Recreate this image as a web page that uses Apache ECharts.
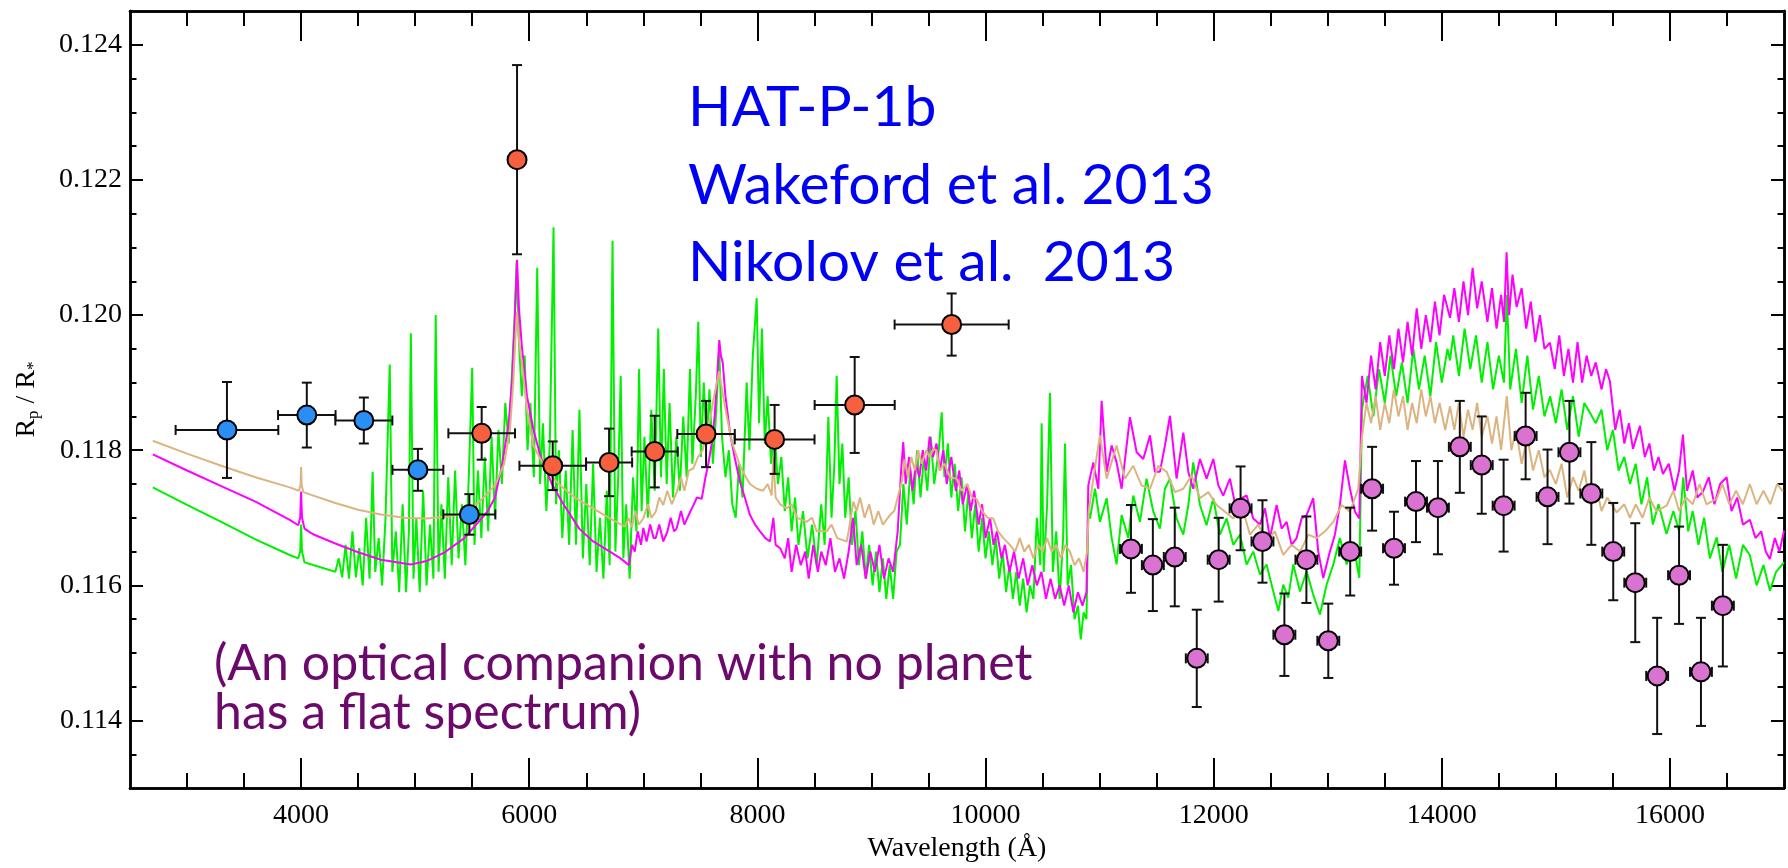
<!DOCTYPE html>
<html>
<head>
<meta charset="utf-8">
<title>HAT-P-1b transmission spectrum</title>
<script src="https://cdn.jsdelivr.net/npm/echarts@6/dist/echarts.min.js"></script>
<style>
  html, body { margin: 0; padding: 0; background: #ffffff; }
  #chart { width: 1788px; height: 868px; }
</style>
</head>
<body>
<div id="chart"></div>
<script>
// ---- STIS G430L (blue) ----
const blueWave      = [3350, 4050, 4550, 5024, 5475];
const blueRadius    = [0.11830, 0.11852, 0.11844, 0.11771, 0.11705];
const blueRadiusErr = [0.00071, 0.00048, 0.00034, 0.00031, 0.00030];
const blueWaveErr   = [450, 252, 250, 223, 228];

// ---- STIS G750L (red) ----
const redWave      = [5583, 5893, 6206, 6700, 7100, 7550, 8151, 8853, 9703];
const redRadius    = [0.11825, 0.12230, 0.11777, 0.11782, 0.11798, 0.11824, 0.11816, 0.11867, 0.11986];
const redRadiusErr = [0.00039, 0.00140, 0.00036, 0.00050, 0.00053, 0.00049, 0.00051, 0.00071, 0.00046];
const redWaveErr   = [292, 25, 292, 202, 202, 252, 350, 351, 500];

// ---- WFC3 G141 (pink) ----
const pinkWave = [11275, 11467, 11659, 11852, 12044, 12236, 12428, 12620, 12813, 13005,
                  13197, 13389, 13581, 13774, 13966, 14158, 14350, 14542, 14735, 14927,
                  15119, 15311, 15503, 15696, 15888, 16080, 16272, 16464];
const pinkRadius = [0.11654, 0.11630, 0.11642, 0.11492, 0.11638, 0.11714, 0.11665, 0.11527, 0.11638, 0.11518,
                    0.11650, 0.11743, 0.11655, 0.11724, 0.11715, 0.11805, 0.11778, 0.11718, 0.11821, 0.11731,
                    0.11797, 0.11736, 0.11650, 0.11604, 0.11466, 0.11615, 0.11472, 0.11570];
const pinkRadiusErr = [0.00065, 0.00068, 0.00073, 0.00072, 0.00062, 0.00062, 0.00061, 0.00061, 0.00064, 0.00055,
                       0.00065, 0.00062, 0.00054, 0.00060, 0.00069, 0.00068, 0.00072, 0.00068, 0.00064, 0.00070,
                       0.00076, 0.00076, 0.00072, 0.00088, 0.00086, 0.00072, 0.00080, 0.00090];
const pinkWaveErr = [96, 96, 96, 96, 96, 96, 96, 96, 96, 96,
                     96, 96, 96, 96, 96, 96, 96, 96, 96, 96,
                     96, 96, 96, 96, 96, 96, 96, 96];

// ---- model spectra: [wavelength (Å), Rp/R*] ----
const greenModel = [
  [2700,0.11745],[3000,0.11719],[3300,0.11694],[3600,0.11668],[3900,0.11645],[3975,0.1164],[3992,0.1165],[4000,0.1169],[4008,0.1165],[4030,0.11634],[4150,0.11628],[4300,0.1162],
  [4330,0.1164],[4360,0.11612],[4390,0.1166],[4420,0.1161],[4450,0.1168],[4480,0.11612],[4510,0.11655],[4540,0.116],[4570,0.117],[4600,0.1161],[4627,0.11768],[4650,0.1162],[4680,0.1167],[4710,0.116],[4740,0.117],[4777,0.11927],[4800,0.1162],[4830,0.1168],[4860,0.1159],[4890,0.1172],[4920,0.1159],[4945,0.1168],[4962,0.11973],[4985,0.1161],
  [5010,0.117],[5040,0.1159],[5070,0.1174],[5100,0.116],[5130,0.1169],[5160,0.1161],[5180,0.12],[5205,0.1162],[5230,0.1172],[5260,0.1161],[5290,0.1176],[5320,0.1163],[5350,0.1177],[5380,0.1164],[5410,0.1172],[5440,0.1163],[5470,0.1176],[5500,0.11922],[5520,0.1166],[5550,0.1177],[5580,0.1167],[5610,0.1179],[5640,0.1168],[5670,0.1182],[5700,0.117],[5730,0.1183],[5760,0.1175],[5790,0.1187],[5820,0.1181],[5850,0.1192],[5870,0.1199],[5890,0.1208],[5910,0.1196],[5935,0.1188],[5960,0.1194],[5985,0.118],
  [6010,0.1187],[6040,0.1176],[6070,0.1207],[6095,0.1175],[6120,0.1184],[6150,0.1171],[6180,0.1181],[6213,0.1213],[6235,0.1172],[6260,0.118],[6290,0.1167],[6320,0.1177],[6350,0.1166],[6380,0.1183],[6410,0.1166],[6440,0.1186],[6470,0.1164],[6500,0.1175],[6530,0.1163],[6560,0.1178],[6590,0.1162],[6620,0.117],[6650,0.1161],[6680,0.1174],[6705,0.1163],[6730,0.1211],[6755,0.1165],[6780,0.1176],[6802,0.1191],[6825,0.1164],[6850,0.1172],[6880,0.1161],[6910,0.1176],[6940,0.1168],[6963,0.1192],[6985,0.1171],
  [7010,0.1182],[7040,0.117],[7070,0.1186],[7100,0.1174],[7131,0.1198],[7155,0.1176],[7180,0.1192],[7205,0.1175],[7230,0.1187],[7260,0.1173],[7290,0.1182],[7320,0.1174],[7350,0.1185],[7380,0.1176],[7409,0.1192],[7430,0.1178],[7460,0.1188],[7482,0.1199],[7505,0.1179],[7530,0.119],[7555,0.1181],[7580,0.1189],[7610,0.1178],[7640,0.1186],[7665,0.1195],[7690,0.1182],[7720,0.1176],[7750,0.118],[7780,0.1172],[7810,0.117],[7840,0.1178],[7870,0.1173],[7906,0.119],[7930,0.118],[7960,0.1194],[7994,0.12025],
  [8015,0.1184],[8040,0.1198],[8065,0.1181],[8090,0.1188],[8120,0.1178],[8150,0.1183],[8180,0.1175],[8210,0.1179],[8240,0.1171],[8270,0.1176],[8300,0.1168],[8330,0.1173],[8360,0.1166],[8400,0.1171],[8440,0.1164],[8480,0.1169],[8520,0.1163],[8560,0.1172],[8590,0.1166],[8622,0.11849],[8650,0.117],[8675,0.1178],[8695,0.1191],[8720,0.1175],[8745,0.1181],[8770,0.117],[8800,0.1176],[8830,0.1166],[8860,0.1171],[8890,0.1163],[8920,0.1168],[8950,0.1161],[8980,0.1166],
  [9010,0.116],[9040,0.1165],[9070,0.1159],[9100,0.1164],[9130,0.1158],[9160,0.1163],[9190,0.1158],[9220,0.1165],[9250,0.1166],[9280,0.1175],[9310,0.1169],[9340,0.1177],[9370,0.1172],[9400,0.118],[9430,0.1173],[9460,0.1179],[9490,0.1174],[9520,0.1182],[9550,0.1175],[9590,0.118],[9616,0.11856],[9640,0.1176],[9670,0.1181],[9700,0.1173],[9730,0.1178],[9760,0.1171],[9790,0.1176],[9820,0.1168],[9850,0.1174],[9880,0.1167],[9910,0.1172],[9940,0.1165],[9970,0.117],
  [10000,0.1164],[10030,0.1168],[10060,0.1163],[10090,0.1167],[10120,0.1161],[10150,0.1165],[10180,0.1159],[10210,0.1163],[10240,0.1158],[10270,0.1162],[10300,0.1157],[10330,0.1161],[10360,0.1156],[10390,0.116],[10420,0.1158],[10450,0.117],[10480,0.1163],[10492,0.1184],[10510,0.1162],[10540,0.1172],[10565,0.11885],[10590,0.1162],[10620,0.1168],[10650,0.1158],[10680,0.1167],[10697,0.1181],[10720,0.116],[10750,0.1163],[10780,0.1155],[10810,0.1157],[10835,0.1152],[10860,0.1156],[10885,0.1155],
  [10901,0.11709],[10916,0.11699],[10960,0.11743],[11003,0.11694],[11062,0.11729],[11106,0.1167],[11149,0.11631],[11193,0.11704],[11252,0.1167],[11295,0.11733],[11354,0.11694],[11412,0.11758],[11471,0.11709],[11529,0.11684],[11573,0.11743],[11617,0.11758],[11675,0.11699],[11734,0.11675],[11778,0.11719],[11821,0.11782],[11880,0.11719],[11938,0.11689],[11997,0.11729],
  [12055,0.11675],[12114,0.11699],[12172,0.1166],[12231,0.11675],[12289,0.11631],[12347,0.1165],[12406,0.11616],[12464,0.11631],[12523,0.11591],[12567,0.11562],[12610,0.11601],[12654,0.11582],[12698,0.11631],[12757,0.11591],[12815,0.11621],[12873,0.11586],[12932,0.11557],[12990,0.11601],[13049,0.11631],[13107,0.1167],[13166,0.11631],[13224,0.1166],[13277,0.11611],
  [13300,0.1186],[13350,0.1191],[13400,0.1185],[13450,0.1192],[13500,0.1187],[13550,0.1194],[13600,0.1188],[13650,0.1193],[13700,0.1187],[13750,0.1195],[13800,0.1189],[13850,0.1194],[13900,0.1188],[13950,0.1196],[14000,0.119],[14050,0.1195],[14072,0.11933],[14100,0.1197],[14150,0.1191],[14200,0.1198],[14250,0.1192],[14300,0.1197],[14350,0.119],[14400,0.1196],[14450,0.1189],[14500,0.1194],[14545,0.119],[14570,0.1203],[14600,0.1189],[14650,0.1195],[14700,0.1187],[14750,0.1194],[14800,0.1186],[14850,0.1191],[14900,0.1185],[14950,0.1188],
  [15000,0.1184],[15050,0.1189],[15100,0.1183],[15150,0.1188],[15200,0.1182],[15250,0.1187],[15300,0.11855],[15350,0.1184],[15400,0.1186],[15450,0.118],[15500,0.1183],[15550,0.1177],[15600,0.1179],[15650,0.1175],[15700,0.1178],[15750,0.1172],[15800,0.1176],[15850,0.1169],[15900,0.1172],[15970,0.11676],
  [16030,0.1171],[16080,0.1168],[16117,0.1176],[16160,0.1168],[16200,0.1171],[16250,0.1166],[16300,0.117],[16350,0.1164],[16410,0.11671],[16460,0.1162],[16520,0.1166],[16580,0.1161],[16640,0.1166],[16700,0.11645],[16760,0.116],[16820,0.1163],[16877,0.11592],[16930,0.1162],[17000,0.11634]
];

const magentaModel = [
  [2700,0.11794],[3000,0.1177],[3300,0.11747],[3600,0.11724],[3900,0.11697],[3975,0.11689],[3992,0.117],[4000,0.11739],[4008,0.117],[4030,0.11684],[4100,0.11676],[4300,0.11662],[4500,0.11649],[4700,0.11638],[4962,0.11631],
  [5100,0.11636],[5250,0.11648],[5431,0.1167],[5632,0.11709],[5700,0.1173],[5766,0.11782],[5820,0.1184],[5851,0.11905],[5875,0.12],[5893,0.12082],[5910,0.1201],[5935,0.11954],[5980,0.1188],
  [6036,0.11831],[6100,0.1179],[6204,0.11748],[6300,0.1172],[6438,0.11684],[6560,0.11665],[6707,0.1165],[6800,0.1164],[6874,0.1163],[6900,0.1166],[6925,0.1165],[6950,0.1168],[6980,0.1166],
  [7000,0.11685],[7029,0.11665],[7060,0.1169],[7090,0.1167],[7109,0.1167],[7140,0.1169],[7175,0.11665],[7210,0.11679],[7240,0.117],[7270,0.1168],[7292,0.11684],[7330,0.1171],[7360,0.1169],[7411,0.11709],[7438,0.11718],[7470,0.1173],[7512,0.11728],[7545,0.1176],[7570,0.1178],[7600,0.1181],[7625,0.1185],[7645,0.119],[7666,0.11963],[7680,0.1194],[7696,0.1193],[7720,0.1188],[7760,0.11826],[7800,0.1179],[7848,0.11753],[7890,0.1173],[7935,0.11704],[7980,0.1169],
  [8023,0.1168],[8070,0.1167],[8111,0.11665],[8140,0.117],[8160,0.1166],[8200,0.11655],[8240,0.1164],[8270,0.1167],[8300,0.1162],[8340,0.1166],[8380,0.1163],[8420,0.1165],[8450,0.1161],[8490,0.1166],[8530,0.1162],[8560,0.1165],[8600,0.1163],[8640,0.1167],[8680,0.1162],[8720,0.1164],[8760,0.1161],[8800,0.1165],[8840,0.117],[8870,0.1163],[8910,0.1166],[8950,0.1161],[8990,0.1165],
  [9030,0.1162],[9070,0.1166],[9110,0.1161],[9150,0.1164],[9190,0.1162],[9230,0.1168],[9260,0.1177],[9279,0.11812],[9300,0.1175],[9330,0.1179],[9360,0.1174],[9390,0.1178],[9420,0.1176],[9450,0.118],[9480,0.1177],[9510,0.1182],[9540,0.1179],[9570,0.1181],[9600,0.1177],[9630,0.118],[9660,0.1175],[9700,0.1179],[9740,0.1174],[9770,0.1177],[9800,0.1172],[9840,0.1175],[9870,0.1171],[9900,0.1174],[9940,0.1169],[9970,0.1172],
  [10000,0.1167],[10040,0.117],[10070,0.1166],[10100,0.1168],[10140,0.1164],[10170,0.1166],[10210,0.1162],[10250,0.1165],[10290,0.1161],[10330,0.1164],[10370,0.116],[10410,0.1163],[10450,0.116],[10490,0.1162],[10530,0.1158],[10570,0.1161],[10610,0.1158],[10650,0.116],[10690,0.1157],[10730,0.116],[10770,0.1156],[10810,0.1159],[10850,0.1157],[10885,0.1159],
  [10901,0.11748],[10945,0.11782],[10989,0.11743],[11018,0.11873],[11062,0.11768],[11106,0.11807],[11149,0.11782],[11193,0.11743],[11266,0.11849],[11325,0.11797],[11383,0.11787],[11442,0.11822],[11485,0.11768],[11529,0.11768],[11573,0.11807],[11617,0.11851],[11675,0.11758],[11734,0.11826],[11778,0.11768],[11821,0.11743],[11880,0.11787],[11938,0.11758],[11997,0.11787],
  [12041,0.11748],[12084,0.11733],[12143,0.11758],[12201,0.11709],[12245,0.11729],[12289,0.11733],[12347,0.11699],[12406,0.1169],[12450,0.11714],[12494,0.1167],[12552,0.11719],[12596,0.11684],[12640,0.11694],[12683,0.1166],[12727,0.1167],[12771,0.11699],[12815,0.11704],[12873,0.11729],[12917,0.1165],[12961,0.11611],
  [13019,0.1165],[13063,0.11675],[13107,0.11719],[13151,0.11785],[13195,0.11743],[13239,0.11709],[13277,0.11699],
  [13300,0.1191],[13340,0.1187],[13380,0.1194],[13420,0.1189],[13460,0.1196],[13500,0.1191],[13540,0.1197],[13580,0.1192],[13620,0.1198],[13660,0.1193],[13700,0.1199],[13740,0.1194],[13780,0.1201],[13820,0.1195],[13860,0.12],[13900,0.1196],[13940,0.1202],[13980,0.1197],
  [14020,0.1203],[14072,0.11996],[14110,0.1204],[14150,0.1199],[14190,0.1205],[14230,0.12],[14270,0.1207],[14310,0.1201],[14350,0.1205],[14400,0.1199],[14440,0.1204],[14480,0.1198],[14520,0.1203],[14545,0.1199],[14568,0.12093],[14590,0.12],[14620,0.1206],[14656,0.12012],[14700,0.1204],[14740,0.1198],[14780,0.1202],[14820,0.1196],[14860,0.12],[14900,0.1195],[14948,0.11959],[14990,0.1192],
  [15030,0.1197],[15070,0.1191],[15110,0.1195],[15150,0.119],[15190,0.1196],[15230,0.119],[15270,0.1194],[15310,0.1191],[15350,0.1193],[15400,0.1189],[15440,0.1192],[15474,0.11902],[15520,0.1183],[15560,0.1186],[15600,0.1181],[15640,0.1184],[15676,0.11802],[15737,0.11836],[15780,0.1179],[15820,0.1181],[15860,0.1177],[15900,0.1179],[15939,0.11765],[15990,0.1178],
  [16040,0.1174],[16080,0.1177],[16114,0.11823],[16150,0.1174],[16200,0.1177],[16240,0.1173],[16290,0.11739],[16340,0.1176],[16390,0.1172],[16440,0.1175],[16497,0.1176],[16540,0.1171],[16590,0.1173],[16640,0.1169],[16701,0.11697],[16750,0.1167],[16800,0.1168],[16840,0.1165],[16876,0.11639],[16920,0.1167],[16960,0.1165],[17000,0.11681]
];

const tanModel = [
  [2700,0.11814],[3000,0.11795],[3300,0.11777],[3600,0.1176],[3900,0.11745],[3980,0.1174],[3995,0.11748],[4000,0.11775],[4005,0.11748],[4020,0.11738],[4089,0.11734],[4300,0.11722],[4500,0.11712],[4700,0.11705],[4900,0.117],
  [5095,0.11699],[5297,0.11702],[5400,0.11706],[5498,0.11714],[5600,0.1173],[5700,0.11748],[5780,0.1178],[5831,0.11831],[5860,0.119],[5880,0.1197],[5892,0.12005],[5905,0.1197],[5935,0.1193],[5980,0.1186],
  [6036,0.11807],[6150,0.1177],[6270,0.11748],[6400,0.1173],[6607,0.11709],[6750,0.11695],[6840,0.11687],[6870,0.117],[6900,0.11686],[6930,0.1171],[6960,0.1169],
  [7000,0.11699],[7040,0.1172],[7070,0.117],[7109,0.11709],[7140,0.1173],[7175,0.11719],[7210,0.1174],[7250,0.1172],[7292,0.11738],[7330,0.1176],[7360,0.1174],[7400,0.1177],[7438,0.11773],[7480,0.1179],[7520,0.118],[7555,0.11826],[7590,0.1185],[7620,0.1188],[7645,0.119],[7665,0.11917],[7680,0.119],[7700,0.1188],[7731,0.11851],[7780,0.1181],[7848,0.11777],[7900,0.1176],[7935,0.1175],[7994,0.11743],
  [8050,0.1174],[8090,0.1175],[8125,0.11733],[8140,0.1179],[8160,0.1173],[8200,0.1172],[8257,0.11714],[8300,0.1172],[8350,0.117],[8432,0.11694],[8480,0.117],[8520,0.1168],[8608,0.1168],[8650,0.1169],[8700,0.1167],[8783,0.11665],[8800,0.1168],[8841,0.11724],[8870,0.1171],[8900,0.1173],[8940,0.117],[8980,0.1172],
  [9020,0.1169],[9060,0.1171],[9100,0.1169],[9162,0.11704],[9200,0.1171],[9230,0.1173],[9265,0.11753],[9294,0.11786],[9320,0.1176],[9350,0.1179],[9380,0.1177],[9410,0.118],[9440,0.1178],[9480,0.118],[9510,0.1179],[9542,0.11802],[9570,0.118],[9600,0.1177],[9640,0.1178],[9690,0.1176],[9747,0.11758],[9790,0.1174],[9840,0.1175],[9880,0.1173],[9922,0.11728],[9970,0.1171],
  [10020,0.117],[10068,0.11699],[10110,0.1168],[10156,0.1167],[10214,0.1166],[10260,0.1165],[10300,0.1167],[10340,0.1165],[10380,0.1166],[10420,0.1164],[10460,0.1166],[10500,0.1165],[10540,0.1167],[10580,0.1165],[10620,0.1166],[10660,0.1164],[10700,0.1166],[10740,0.1165],[10780,0.1163],[10820,0.1164],[10860,0.1162],[10890,0.1165],
  [10905,0.1171],[10945,0.11758],[11003,0.11822],[11062,0.11758],[11149,0.11807],[11222,0.11758],[11295,0.11777],[11368,0.11748],[11442,0.11743],[11515,0.11777],[11588,0.11768],[11661,0.11738],[11734,0.11743],[11807,0.11763],[11880,0.11729],[11953,0.11738],
  [12026,0.11719],[12099,0.11709],[12172,0.11699],[12245,0.11719],[12318,0.11675],[12391,0.1169],[12464,0.11665],[12537,0.1168],[12610,0.11645],[12683,0.1166],[12757,0.1165],[12830,0.11675],[12903,0.1167],[12976,0.1168],[13049,0.11694],[13122,0.11719],[13195,0.11709],[13268,0.11743],
  [13300,0.1182],[13340,0.1187],[13380,0.1184],[13420,0.1188],[13460,0.1183],[13500,0.1187],[13540,0.1184],[13580,0.1189],[13620,0.1185],[13660,0.1188],[13700,0.1183],[13740,0.1187],[13780,0.1184],[13820,0.1189],[13860,0.1185],[13900,0.1188],[13940,0.1184],[13980,0.1187],
  [14030,0.1183],[14072,0.11865],[14110,0.1183],[14150,0.1187],[14190,0.1182],[14230,0.1186],[14270,0.1183],[14310,0.1187],[14350,0.1182],[14400,0.1185],[14440,0.1181],[14480,0.1185],[14520,0.118],[14570,0.1188],[14610,0.118],[14650,0.1183],[14700,0.1178],[14750,0.1182],[14800,0.1177],[14850,0.118],[14900,0.1176],[14947,0.11771],
  [15000,0.1175],[15050,0.1178],[15100,0.1173],[15150,0.1176],[15200,0.1174],[15250,0.1177],[15300,0.1172],[15350,0.1175],[15400,0.1171],[15450,0.1173],[15533,0.11708],[15600,0.1172],[15650,0.117],[15700,0.1172],[15760,0.117],[15820,0.1173],[15880,0.1171],[15971,0.11718],
  [16030,0.1174],[16080,0.1171],[16140,0.1173],[16200,0.1172],[16260,0.1175],[16320,0.1172],[16409,0.11728],[16460,0.1175],[16520,0.1172],[16580,0.1174],[16640,0.1172],[16700,0.1175],[16760,0.1172],[16820,0.1174],[16880,0.1172],[16940,0.1175],[16990,0.11739]
];

// ---- axis ticks ----
const xMajorTicks = [4000, 6000, 8000, 10000, 12000, 14000, 16000];
const xMinorTicks = [3000, 3500, 4000, 4500, 5000, 5500, 6000, 6500, 7000, 7500, 8000, 8500, 9000, 9500,
                     10000, 10500, 11000, 11500, 12000, 12500, 13000, 13500, 14000, 14500, 15000, 15500, 16000, 16500];
const yMajorTicks = [0.114, 0.116, 0.118, 0.120, 0.122, 0.124];
const yMinorTicks = [0.1135, 0.1140, 0.1145, 0.1150, 0.1155, 0.1160, 0.1165, 0.1170, 0.1175, 0.1180, 0.1185,
                     0.1190, 0.1195, 0.1200, 0.1205, 0.1210, 0.1215, 0.1220, 0.1225, 0.1230, 0.1235, 0.1240];

const SERIF = '"Liberation Serif", "Times New Roman", serif';
const SANS = 'Lato, "Open Sans", sans-serif';

function rows(wave, radius, radiusErr, waveErr) {
  return wave.map((w, i) => [w, radius[i], radiusErr[i], waveErr[i]]);
}

// Error bars (vertical + horizontal, with end caps) placed through the axes.
function renderErrorBar(params, api) {
  const w = api.value(0), r = api.value(1), re = api.value(2), we = api.value(3);
  const c = api.coord([w, r]);
  const top = api.coord([w, r + re]);
  const bot = api.coord([w, r - re]);
  const lft = api.coord([w - we, r]);
  const rgt = api.coord([w + we, r]);
  const cap = 5;
  const style = { stroke: '#111111', lineWidth: 2 };
  return {
    type: 'group',
    children: [
      { type: 'line', shape: { x1: c[0], y1: top[1], x2: c[0], y2: bot[1] }, style },
      { type: 'line', shape: { x1: c[0] - cap, y1: top[1], x2: c[0] + cap, y2: top[1] }, style },
      { type: 'line', shape: { x1: c[0] - cap, y1: bot[1], x2: c[0] + cap, y2: bot[1] }, style },
      { type: 'line', shape: { x1: lft[0], y1: c[1], x2: rgt[0], y2: c[1] }, style },
      { type: 'line', shape: { x1: lft[0], y1: c[1] - cap, x2: lft[0], y2: c[1] + cap }, style },
      { type: 'line', shape: { x1: rgt[0], y1: c[1] - cap, x2: rgt[0], y2: c[1] + cap }, style }
    ]
  };
}

function errorSeries(data) {
  return {
    type: 'custom', renderItem: renderErrorBar, data: data,
    xAxisIndex: 0, yAxisIndex: 0, z: 5, silent: true,
    encode: { x: 0, y: 1 }
  };
}

function pointSeries(data, fill) {
  return {
    type: 'scatter', data: data.map(d => [d[0], d[1]]),
    xAxisIndex: 0, yAxisIndex: 0, z: 6,
    symbol: 'circle', symbolSize: 19,
    itemStyle: { color: fill, borderColor: '#000000', borderWidth: 2, opacity: 1 }
  };
}

function modelSeries(data, color, z) {
  return {
    type: 'line', data: data, xAxisIndex: 0, yAxisIndex: 0, z: z,
    showSymbol: false, symbol: 'none', smooth: false,
    lineStyle: { color: color, width: 2 }, clip: true, silent: true
  };
}

const blueRows = rows(blueWave, blueRadius, blueRadiusErr, blueWaveErr);
const redRows = rows(redWave, redRadius, redRadiusErr, redWaveErr);
const pinkRows = rows(pinkWave, pinkRadius, pinkRadiusErr, pinkWaveErr);

const axisLineStyle = { color: '#000000', width: 2.5 };
const tickStyle = { color: '#000000', width: 2 };

function xTickAxis(position, ticks, len, withLabels) {
  return {
    type: 'value', position: position, min: 2500, max: 17000,
    axisLine: { show: withLabels !== null, onZero: false, lineStyle: axisLineStyle },
    axisTick: { show: true, inside: true, length: len, customValues: ticks, lineStyle: tickStyle },
    axisLabel: withLabels ? {
      show: true, customValues: xMajorTicks, margin: 14,
      fontFamily: SERIF, fontSize: 28, color: '#000000',
      formatter: v => String(Math.round(v))
    } : { show: false },
    splitLine: { show: false }
  };
}

function yTickAxis(position, ticks, len, withLabels) {
  return {
    type: 'value', position: position, min: 0.113, max: 0.1245,
    axisLine: { show: withLabels !== null, onZero: false, lineStyle: axisLineStyle },
    axisTick: { show: true, inside: true, length: len, customValues: ticks, lineStyle: tickStyle },
    axisLabel: withLabels ? {
      show: true, customValues: yMajorTicks, margin: 8,
      fontFamily: SERIF, fontSize: 28, color: '#000000',
      formatter: v => v.toFixed(3)
    } : { show: false },
    splitLine: { show: false }
  };
}

const xMain = xTickAxis('bottom', xMajorTicks, 30, true);
xMain.name = 'Wavelength (Å)';
xMain.nameLocation = 'middle';
xMain.nameGap = 42;
xMain.nameTextStyle = { fontFamily: SERIF, fontSize: 28, color: '#000000' };

const yMain = yTickAxis('left', yMajorTicks, 13, true);
yMain.name = '{r|R}{s|p}{r| / R}{s|*}';
yMain.nameLocation = 'middle';
yMain.nameRotate = 90;
yMain.nameGap = 88;
yMain.nameTextStyle = {
  rich: {
    r: { fontFamily: SERIF, fontSize: 28, color: '#000000' },
    s: { fontFamily: SERIF, fontSize: 17, color: '#000000', padding: [14, 0, 0, 0] }
  }
};

const titleStyle = { fill: '#0000f5', fontFamily: SANS, fontSize: 57,
                     align: 'left', verticalAlign: 'middle', textAlign: 'left', textVerticalAlign: 'middle' };
const noteStyle = { fill: '#6c0a6c', fontFamily: SANS, fontSize: 50,
                    align: 'left', verticalAlign: 'middle', textAlign: 'left', textVerticalAlign: 'middle' };

const option = {
  animation: false,
  backgroundColor: '#ffffff',
  grid: { left: 130, right: 4, top: 11, bottom: 77, containLabel: false },
  xAxis: [
    xMain,
    xTickAxis('bottom', xMinorTicks, 15, false),
    xTickAxis('top', xMajorTicks, 30, false),
    xTickAxis('top', xMinorTicks, 15, false)
  ],
  yAxis: [
    yMain,
    yTickAxis('left', yMinorTicks, 6.5, false),
    yTickAxis('right', yMajorTicks, 13, false),
    yTickAxis('right', yMinorTicks, 6.5, false)
  ],
  series: [
    modelSeries(greenModel, '#00f000', 2),
    modelSeries(magentaModel, '#ff00ff', 3),
    modelSeries(tanModel, '#dcb482', 4),
    errorSeries(blueRows),
    errorSeries(redRows),
    errorSeries(pinkRows),
    pointSeries(blueRows, '#2a8ef2'),
    pointSeries(redRows, '#f7603f'),
    pointSeries(pinkRows, '#da72d2')
  ],
  graphic: [
    { type: 'text', x: 688, y: 108, z: 10, style: Object.assign({ text: 'HAT-P-1b' }, titleStyle) },
    { type: 'text', x: 688, y: 186, z: 10, style: Object.assign({ text: 'Wakeford et al. 2013' }, titleStyle) },
    { type: 'text', x: 688, y: 263, z: 10, style: Object.assign({ text: 'Nikolov et al.  2013' }, titleStyle) },
    { type: 'text', x: 214, y: 664, z: 10, style: Object.assign({ text: '(An optical companion with no planet' }, noteStyle) },
    { type: 'text', x: 214, y: 713, z: 10, style: Object.assign({ text: 'has a flat spectrum)' }, noteStyle) }
  ]
};

const chart = echarts.init(document.getElementById('chart'), null, { renderer: 'canvas', width: 1788, height: 868 });
chart.setOption(option);
</script>
</body>
</html>
